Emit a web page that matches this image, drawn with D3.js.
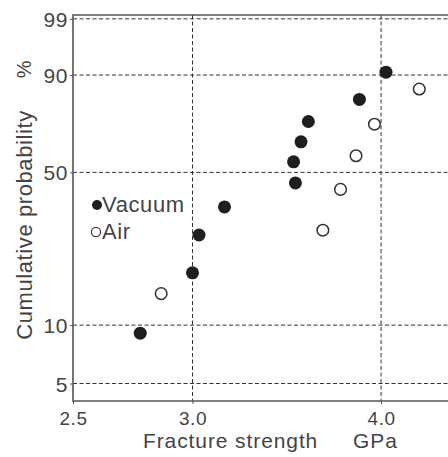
<!DOCTYPE html>
<html>
<head>
<meta charset="utf-8">
<script src="https://cdn.jsdelivr.net/npm/d3@7"></script>
<style>
  body { margin: 0; background: #fff; }
  svg text { font-family: "Liberation Sans", Arial, sans-serif; fill: #444; letter-spacing: 0.6px; }
</style>
</head>
<body>
<div id="chart"></div>
<script>
// weibull plot of fracture strength, vacuum vs air
let width = 448, height = 457;

const vacuumStrength = [2.77, 3.00, 3.03, 3.15, 3.51, 3.50, 3.54, 3.58, 3.87, 4.03];
const vacuumProb = [9.1, 18.2, 27.4, 36.4, 45.6, 54.6, 63.6, 72.7, 81.8, 90.8];
const airStrength = [2.86, 3.66, 3.76, 3.85, 3.96, 4.24];
const airProb = [14.4, 28.8, 43.0, 57.3, 71.5, 85.6];

const xTicks = [2.5, 3.0, 4.0];
const yTicks = [99, 90, 50, 10, 5];
const xGrid = [3.0, 4.0];

// cumulative probability (%) -> weibull coordinate ln(-ln(1-F))
function weib(p) { return Math.log(-Math.log(1 - p / 100)); }

let plotLeft = 73, plotTop = 15, plotBottom = 401;

let x = d3.scaleLog().domain([2.5, 4.43]).range([plotLeft, width]);
let y = d3.scaleLinear().domain([weib(4.05), weib(99.2)]).range([plotBottom, plotTop]);

let svg = d3.select("#chart").append("svg")
    .attr("width", width)
    .attr("height", height);

// grid
let grid = svg.append("g").attr("class", "grid")
    .style("stroke", "#333").style("stroke-width", 1).style("stroke-dasharray", "4,2.5");
grid.selectAll("line.h")
    .data(yTicks)
    .enter().append("line")
    .attr("class", "h")
    .attr("x1", plotLeft).attr("x2", width)
    .attr("y1", d => y(weib(d))).attr("y2", d => y(weib(d)));
grid.selectAll("line.v")
    .data(xGrid)
    .enter().append("line")
    .attr("class", "v")
    .attr("x1", d => x(d)).attr("x2", d => x(d))
    .attr("y1", plotTop).attr("y2", plotBottom);

// frame
svg.append("path")
    .attr("d", `M${width},${plotTop}H${plotLeft}V${plotBottom}H${width}`)
    .style("fill", "none")
    .style("stroke", "#555")
    .style("stroke-width", 1.6);

// axes
let yAxis = d3.axisLeft(y)
    .tickValues(yTicks.map(weib))
    .tickFormat((d, i) => yTicks[i])
    .tickSize(3)
    .tickPadding(2);
let gy = svg.append("g").attr("transform", `translate(${plotLeft},0)`).call(yAxis);

let xAxis = d3.axisBottom(x)
    .tickValues(xTicks)
    .tickFormat(d3.format(".1f"))
    .tickSize(3)
    .tickPadding(8);
let gx = svg.append("g").attr("transform", `translate(0,${plotBottom})`).call(xAxis);

[gx, gy].forEach(g => {
    g.select(".domain").remove();
    g.selectAll(".tick line").style("stroke", "#555");
    g.selectAll(".tick text").style("font-size", "21px").style("fill", "#444");
});
gx.selectAll(".tick text").style("font-size", "19px");
gy.selectAll(".tick text").attr("dy", "0.36em");

// axis titles
svg.append("text")
    .attr("x", 143).attr("y", 448)
    .style("font-size", "21px")
    .style("letter-spacing", "0.9px")
    .text("Fracture strength");
svg.append("text")
    .attr("x", 353).attr("y", 448)
    .style("font-size", "21px")
    .style("letter-spacing", "0.9px")
    .text("GPa");
svg.append("text")
    .attr("transform", "translate(32,225) rotate(-90)")
    .attr("text-anchor", "middle")
    .style("font-size", "22px")
    .text("Cumulative probability");
svg.append("text")
    .attr("transform", "translate(31,69) rotate(-90)")
    .attr("text-anchor", "middle")
    .style("font-size", "20px")
    .text("%");

// points
svg.append("g").selectAll("circle")
    .data(vacuumStrength.map((s, i) => [s, vacuumProb[i]]))
    .enter().append("circle")
    .attr("cx", d => x(d[0]))
    .attr("cy", d => y(weib(d[1])))
    .attr("r", 6.5)
    .style("fill", "#1e1e1e");

svg.append("g").selectAll("circle")
    .data(airStrength.map((s, i) => [s, airProb[i]]))
    .enter().append("circle")
    .attr("cx", d => x(d[0]))
    .attr("cy", d => y(weib(d[1])))
    .attr("r", 5.8)
    .style("fill", "#fff")
    .style("stroke", "#333")
    .style("stroke-width", 1.5);

// legend
let legend = svg.append("g");
legend.append("circle").attr("cx", 97).attr("cy", 205).attr("r", 5).style("fill", "#1e1e1e");
legend.append("text").attr("x", 102).attr("y", 212).style("font-size", "22px").text("Vacuum");
legend.append("circle").attr("cx", 96).attr("cy", 232).attr("r", 4.6)
    .style("fill", "#fff").style("stroke", "#444").style("stroke-width", 1.3);
legend.append("text").attr("x", 102).attr("y", 239).style("font-size", "22px").text("Air");
</script>
</body>
</html>
